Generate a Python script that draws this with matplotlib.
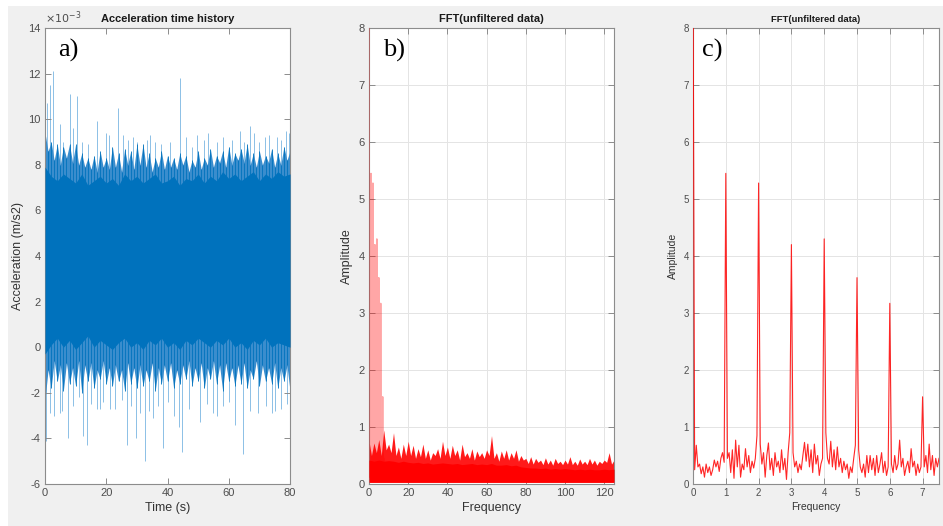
import numpy as np
import matplotlib
matplotlib.use('Agg')
import matplotlib.pyplot as plt
from matplotlib.patches import Rectangle

plt.rcParams['font.family'] = ['Liberation Sans', 'DejaVu Sans']
plt.rcParams['axes.unicode_minus'] = False

# ---- a) acceleration time history (values in 1e-3 m/s2) ----
a_t = np.arange(0, 81, 1)
a_outer_hi = [9.4, 8.6, 9.0, 8.2, 8.9, 8.0, 8.8, 8.3, 8.9, 8.1, 8.9, 8.0, 8.5, 7.9, 8.3, 7.8,
              8.4, 7.7, 8.6, 7.9, 8.3, 7.8, 8.8, 7.9, 8.5, 7.7, 8.7, 8.0, 8.6, 7.8, 8.9, 8.0,
              8.9, 7.9, 8.5, 7.7, 8.3, 7.9, 8.6, 7.8, 8.4, 7.9, 8.3, 7.8, 8.5, 8.0, 8.4, 7.7,
              8.2, 7.9, 8.6, 7.8, 8.3, 8.0, 8.7, 7.9, 8.4, 8.1, 8.6, 7.9, 8.8, 8.0, 8.5, 8.2,
              8.7, 8.1, 8.9, 8.0, 8.5, 7.9, 8.6, 8.0, 8.4, 8.1, 8.7, 7.9, 8.5, 8.0, 8.8, 8.2, 8.6]
a_outer_lo = [-2.3, -1.0, -1.8, -0.6, -1.5, -0.8, -1.9, -0.7, -1.6, -0.9, -1.7, -0.6, -2.0, -0.8,
              -1.5, -0.7, -1.8, -1.0, -1.4, -0.6, -1.6, -0.9, -1.7, -0.8, -1.5, -1.0, -1.9, -0.7,
              -1.6, -0.9, -1.8, -0.8, -1.7, -1.0, -1.5, -0.7, -1.9, -0.9, -1.6, -0.8, -1.5, -0.7,
              -1.8, -1.0, -1.6, -0.8, -1.4, -0.6, -1.7, -0.9, -1.5, -0.7, -1.8, -0.9, -1.4, -0.6,
              -1.6, -0.8, -1.9, -0.7, -1.5, -0.9, -1.7, -0.8, -1.6, -0.7, -1.8, -1.0, -1.4, -0.6,
              -1.7, -0.8, -1.5, -0.9, -1.6, -0.7, -1.8, -0.9, -1.5, -0.8, -1.9]
a_core_t = np.arange(0, 81, 2)
a_core_hi = [7.9, 7.5, 7.3, 7.6, 7.4, 7.2, 7.6, 7.1, 7.3, 7.5, 7.2, 7.4, 7.1, 7.6, 7.3, 7.5,
             7.2, 7.4, 7.6, 7.2, 7.3, 7.5, 7.1, 7.4, 7.3, 7.6, 7.2, 7.5, 7.3, 7.7, 7.4, 7.6,
             7.3, 7.5, 7.7, 7.3, 7.6, 7.4, 7.7, 7.5, 7.6]
a_core_lo = [-0.3, 0.1, 0.4, 0.0, 0.3, -0.1, 0.2, 0.5, 0.0, 0.3, 0.1, -0.1, 0.2, 0.4, 0.0, 0.2,
             -0.1, 0.3, 0.1, 0.4, 0.0, 0.2, -0.1, 0.3, 0.1, 0.4, 0.2, 0.0, 0.3, 0.1, 0.4, 0.0,
             0.2, -0.1, 0.3, 0.1, 0.4, 0.0, 0.2, 0.1, 0.0]
a_spike_t = [0.5, 1.6, 2.7, 4.9, 6.0, 8.2, 9.2, 10.6, 12.0, 14.0, 16.9, 19.9, 21.0, 23.9, 25.4,
             27.0, 28.8, 30.0, 33.2, 34.3, 36.0, 38.0, 40.8, 44.1, 46.0, 48.0, 49.5, 52.0, 53.3,
             56.0, 58.0, 61.0, 63.7, 65.0, 66.9, 68.2, 70.0, 71.8, 73.0, 75.6, 77.0, 78.7, 79.6,
             0.3, 1.5, 3.0, 4.9, 5.5, 7.6, 9.0, 11.0, 12.5, 13.6, 15.0, 17.0, 18.0, 19.0, 21.2,
             23.0, 25.0, 26.7, 28.0, 29.7, 31.0, 32.7, 34.0, 35.4, 37.0, 38.6, 40.0, 42.0, 43.9,
             44.6, 47.0, 50.6, 53.0, 55.0, 56.1, 58.0, 60.0, 62.0, 64.8, 67.0, 69.7, 72.0, 74.0,
             75.1, 77.0, 79.0, 80.0]
a_spike_v = [10.7, 11.5, 12.1, 9.8, 9.0, 11.1, 9.6, 11.0, 9.0, 8.9, 9.9, 9.4, 9.3, 10.5, 9.3,
             9.1, 9.2, 9.0, 9.1, 9.3, 9.0, 8.9, 9.0, 11.8, 9.2, 8.8, 9.3, 9.1, 9.4,
             9.0, 9.2, 9.1, 9.5, 9.0, 9.7, 9.4, 9.0, 9.2, 9.3, 9.2, 9.1, 9.5, 9.4,
             -4.1, -2.9, -3.0, -2.9, -2.8, -4.0, -2.6, -2.2, -3.9, -4.3, -2.5, -2.7, -2.7, -2.4,
             -2.7, -2.7, -2.3, -4.3, -2.6, -4.0, -2.9, -5.0, -2.8, -3.1, -2.6, -4.4, -2.4, -3.0,
             -3.5, -4.6, -2.7, -3.3, -2.5, -2.9, -3.0, -2.6, -2.4, -3.4, -4.7, -2.8, -2.9, -2.6,
             -2.9, -2.8, -2.7, -2.5, -2.2]
a_yticks = [-6, -4, -2, 0, 2, 4, 6, 8, 10, 12, 14]

# ---- c) low-frequency part of the spectrum, 0.05 Hz steps ----
c_freq = np.arange(151) * 0.05
c_amp = [9.5, 0.25, 0.68, 0.3, 0.35, 0.18, 0.3, 0.12, 0.35, 0.2, 0.3, 0.15, 0.25, 0.42, 0.3, 0.4,
         0.22, 0.45, 0.55, 0.38, 5.45, 0.45, 0.55, 0.2, 0.6, 0.1, 0.77, 0.3, 0.68, 0.12, 0.35,
         0.25, 0.62, 0.3, 0.5, 0.2, 0.4, 0.28, 0.45, 0.85, 5.28, 0.7, 0.35, 0.55, 0.12, 0.5,
         0.72, 0.25, 0.45, 0.15, 0.55, 0.3, 0.4, 0.2, 0.6, 0.25, 0.45, 0.08, 0.55, 0.9, 4.2,
         0.55, 0.3, 0.4, 0.2, 0.35, 0.25, 0.5, 0.73, 0.4, 0.7, 0.3, 0.6, 0.2, 0.7, 0.35, 0.5,
         0.15, 0.35, 0.45, 4.3, 0.9, 0.45, 0.35, 0.75, 0.3, 0.6, 0.25, 0.65, 0.3, 0.45, 0.2,
         0.4, 0.25, 0.35, 0.1, 0.3, 0.2, 0.45, 0.68, 3.62, 0.6, 0.3, 0.2, 0.35, 0.12, 0.5, 0.2,
         0.5, 0.25, 0.45, 0.15, 0.5, 0.2, 0.35, 0.55, 0.2, 0.4, 0.15, 0.3, 3.17, 0.35, 0.2,
         0.5, 0.25, 0.35, 0.77, 0.3, 0.45, 0.15, 0.3, 0.4, 0.2, 0.62, 0.3, 0.4, 0.15, 0.35,
         0.2, 0.3, 1.53, 0.3, 0.5, 0.2, 0.7, 0.25, 0.5, 0.15, 0.45, 0.3, 0.45]

# ---- b) full spectrum noise floor ----
b_top_f = np.arange(101) * 1.25
b_floor_top = [0.75, 0.5, 0.72, 0.55, 0.78, 0.5, 0.95, 0.6,
               0.7, 0.55, 0.9, 0.5, 0.65, 0.45, 0.7, 0.5,
               0.75, 0.5, 0.68, 0.45, 0.62, 0.48, 0.7, 0.45,
               0.6, 0.42, 0.55, 0.5, 0.62, 0.45, 0.75, 0.5,
               0.65, 0.45, 0.68, 0.5, 0.6, 0.42, 0.7, 0.48,
               0.55, 0.45, 0.62, 0.42, 0.58, 0.48, 0.55, 0.45,
               0.6, 0.5, 0.85, 0.45, 0.55, 0.4, 0.58, 0.45,
               0.6, 0.42, 0.55, 0.45, 0.6, 0.4, 0.5, 0.42,
               0.45, 0.36, 0.48, 0.35, 0.45, 0.38, 0.42, 0.34,
               0.46, 0.35, 0.42, 0.33, 0.45, 0.36, 0.4, 0.34,
               0.42, 0.35, 0.48, 0.34, 0.4, 0.33, 0.44, 0.35,
               0.4, 0.34, 0.45, 0.35, 0.42, 0.33, 0.4, 0.36,
               0.42, 0.38, 0.55, 0.35, 0.42]
b_core_f = np.arange(51) * 2.5
b_floor_core = [0.42, 0.4, 0.42, 0.4, 0.41, 0.4, 0.38, 0.4, 0.38, 0.37, 0.38, 0.36, 0.37, 0.35,
                0.36, 0.37, 0.36, 0.35, 0.36, 0.34, 0.35, 0.36, 0.34, 0.35, 0.34, 0.36, 0.33,
                0.33, 0.34, 0.32, 0.33, 0.3, 0.29, 0.28, 0.28, 0.27, 0.28, 0.26, 0.27, 0.26,
                0.27, 0.26, 0.25, 0.26, 0.25, 0.26, 0.25, 0.25, 0.26, 0.25, 0.26]
b_floor_bottom = 0.03

W, H = 943, 526
fig = plt.figure(figsize=(W / 100, H / 100), dpi=100, facecolor='#f0f0f0')
fig.patches.append(Rectangle((0, 1 - 6 / H), 1, 6 / H, transform=fig.transFigure,
                             facecolor='white', edgecolor='none', zorder=-1))
fig.patches.append(Rectangle((0, 0), 8 / W, 1, transform=fig.transFigure,
                             facecolor='white', edgecolor='none', zorder=-1))

tick_col = '#4d4d4d'
edge_col = '#8c8c8c'


def style_axes(ax, size, grid):
    ax.set_facecolor('white')
    for s in ax.spines.values():
        s.set_color(edge_col)
        s.set_linewidth(0.8)
    ax.tick_params(direction='in', length=4, width=0.7, color=edge_col, labelcolor=tick_col,
                   labelsize=size, top=True, right=True, pad=3)
    if grid:
        ax.grid(True, color='#e4e4e4', linewidth=0.7)
        ax.set_axisbelow(True)


y0 = 1 - 484 / H
hh = 456 / H
ax_a = fig.add_axes([45 / W, y0, 245 / W, hh])
ax_b = fig.add_axes([369 / W, y0, 245 / W, hh])
ax_c = fig.add_axes([693 / W, y0, 246 / W, hh])

# a)
sc = 1e-3
ax_a.vlines(a_spike_t, 3.5 * sc, np.array(a_spike_v) * sc, color='#8cc0e6', linewidth=0.7, zorder=1)
ax_a.fill_between(a_t, np.array(a_outer_lo) * sc, np.array(a_outer_hi) * sc,
                  color='#3a8dcd', linewidth=0, zorder=2)
ax_a.vlines(a_t, np.array(a_outer_lo) * sc, np.array(a_outer_hi) * sc,
            color='#0072BD', linewidth=0.6, zorder=2.5)
ax_a.fill_between(a_core_t, np.array(a_core_lo) * sc, np.array(a_core_hi) * sc,
                  color='#0072BD', linewidth=0, zorder=3)
ax_a.set_xlim(0, 80)
ax_a.set_ylim(-6e-3, 14e-3)
ax_a.set_xticks([0, 20, 40, 60, 80])
ax_a.set_yticks(np.array(a_yticks) * sc)
ax_a.set_yticklabels([str(v) for v in a_yticks])
style_axes(ax_a, 8, False)
ax_a.text(0.0, 1.005, r'$\times10^{-3}$', transform=ax_a.transAxes, ha='left', va='bottom',
          fontsize=8, color=tick_col)
ax_a.set_title('Acceleration time history', fontsize=8, fontweight='bold', color='#1a1a1a', pad=4)
ax_a.set_xlabel('Time (s)', fontsize=9, color='#333333', labelpad=3)
ax_a.set_ylabel('Acceleration (m/s2)', fontsize=9, color='#333333', labelpad=3)
ax_a.text(0.053, 0.975, 'a)', transform=ax_a.transAxes, va='top', ha='left',
          fontsize=19, family='Liberation Serif', color='black')

# b)
ax_b.fill_between(b_top_f, b_floor_bottom, b_floor_top, color='#ff1a1a', linewidth=0, zorder=2)
ax_b.fill_between(b_core_f, b_floor_bottom, b_floor_core, color='#ff0000', linewidth=0, zorder=3)
ax_b.plot(c_freq, c_amp, color='#ff0000', alpha=0.35, linewidth=1.0, zorder=4)
ax_b.set_xlim(0, 125)
ax_b.set_ylim(0, 8)
ax_b.set_xticks(np.arange(0, 121, 20))
ax_b.set_yticks(np.arange(0, 9, 1))
style_axes(ax_b, 8, True)
ax_b.set_title('FFT(unfiltered data)', fontsize=8, fontweight='bold', color='#1a1a1a', pad=4)
ax_b.set_xlabel('Frequency', fontsize=9, color='#333333', labelpad=3)
ax_b.set_ylabel('Amplitude', fontsize=9, color='#333333', labelpad=4)
ax_b.text(0.058, 0.975, 'b)', transform=ax_b.transAxes, va='top', ha='left',
          fontsize=19, family='Liberation Serif', color='black')

# c)
ax_c.plot(c_freq, c_amp, color='#ff0000', linewidth=0.8, alpha=0.85, zorder=3)
ax_c.set_xlim(0, 7.5)
ax_c.set_ylim(0, 8)
ax_c.set_xticks(np.arange(0, 8, 1))
ax_c.set_yticks(np.arange(0, 9, 1))
style_axes(ax_c, 7, True)
ax_c.set_title('FFT(unfiltered data)', fontsize=6.8, fontweight='bold', color='#1a1a1a', pad=4)
ax_c.set_xlabel('Frequency', fontsize=7.5, color='#333333', labelpad=3)
ax_c.set_ylabel('Amplitude', fontsize=7.5, color='#333333', labelpad=4)
ax_c.text(0.037, 0.975, 'c)', transform=ax_c.transAxes, va='top', ha='left',
          fontsize=19, family='Liberation Serif', color='black')

fig.savefig('out.png', dpi=100, facecolor=fig.get_facecolor())
